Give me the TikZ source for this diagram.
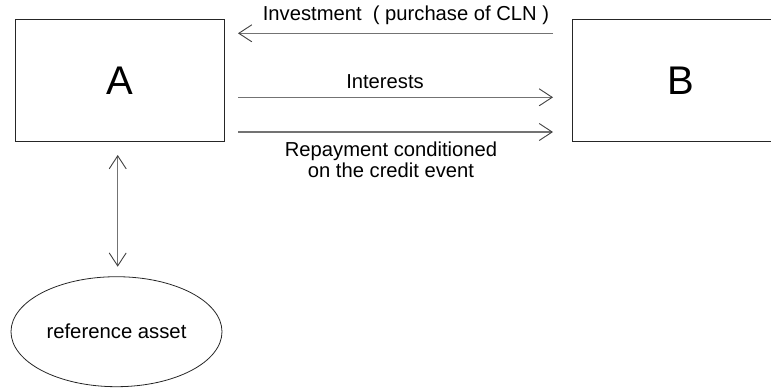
\documentclass[tikz,border=0pt]{standalone}
\usepackage{fontspec}
\setmainfont{Liberation Sans}
\usetikzlibrary{arrows.meta,shapes.geometric}
\begin{document}
\begin{tikzpicture}[x=1pt,y=-1pt,
  party/.style={draw=black!85,line width=0.9pt,minimum width=208.5pt,minimum height=121.5pt,inner sep=0pt,font=\fontsize{40}{44}\selectfont},
  flow/.style={draw=black!55,line width=1.2pt,-{Straight Barb[length=13pt,width=17pt,line width=0.9pt,color=black!75]}},
  twoway/.style={draw=black!55,line width=1.2pt,{Straight Barb[length=13pt,width=17pt,line width=0.9pt,color=black!75]}-{Straight Barb[length=13pt,width=17pt,line width=0.9pt,color=black!75]}},
  lbl/.style={font=\fontsize{20.2}{21}\selectfont,inner sep=0pt,anchor=base,align=center}]
\useasboundingbox (0,0) rectangle (771,389);
\clip (0,0) rectangle (771,389);
% parties
\node[party] (A) at (119.75,80.25) {A};
\node[party,minimum width=218pt] (B) at (681,80.25) {B};
% anchor points of the flows
\coordinate (a1) at (238,33.3);
\coordinate (b1) at (553,33.3);
\coordinate (a2) at (238,97.3);
\coordinate (b2) at (553,97.3);
\coordinate (a3) at (238,132);
\coordinate (b3) at (553,132);
% reference asset
\node[draw=black!85,line width=0.8pt,ellipse,minimum width=211pt,minimum height=110pt,inner sep=0pt,font=\fontsize{20.3}{22}\selectfont] (R) at (116.5,331.7) {reference asset};
\coordinate (v1) at (117.7,155);
\coordinate (v2) at (117.7,266.7);
% flows
\draw[flow] (b1) -- (a1);
\draw[flow] (a2) -- (b2);
\draw[flow] (a3) -- (b3);
\draw[twoway] (v1) -- (v2);
% labels
\node[lbl] (t1) at (406,20.7) {Investment\ \ ( purchase of CLN )};
\node[lbl] (t2) at (385,88.3) {Interests};
\node[lbl,anchor=north] (t3) at (391,141.2) {Repayment conditioned\\on the credit event};
\end{tikzpicture}
\end{document}
